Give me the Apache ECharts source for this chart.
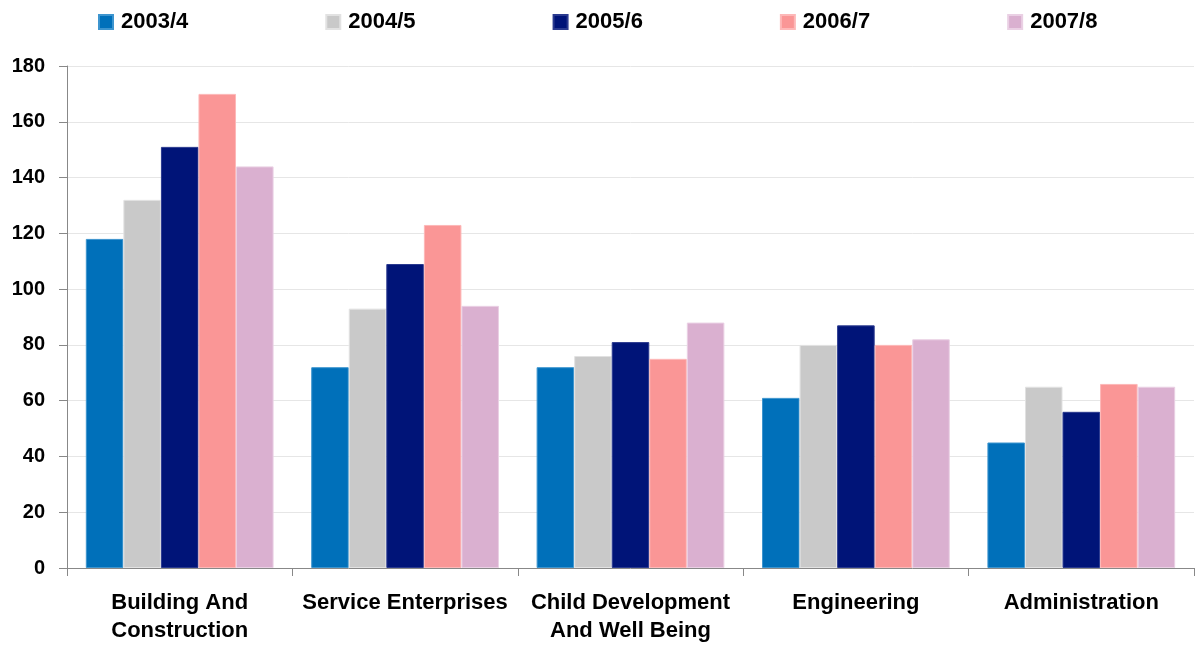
<!DOCTYPE html>
<html><head><meta charset="utf-8">
<script src="https://cdn.jsdelivr.net/npm/echarts@6/dist/echarts.min.js"></script>
<style>html,body{margin:0;padding:0;background:#fff}#c{width:1196px;height:648px}</style>
</head><body><div id="c"></div>
<script>
const categories = ['Building And\nConstruction', 'Service Enterprises', 'Child Development\nAnd Well Being', 'Engineering', 'Administration'];
const seriesNames = ['2003/4', '2004/5', '2005/6', '2006/7', '2007/8'];
const s2003 = [118, 72, 72, 61, 45];
const s2004 = [132, 93, 76, 80, 65];
const s2005 = [151, 109, 81, 87, 56];
const s2006 = [170, 123, 75, 80, 66];
const s2007 = [144, 94, 88, 82, 65];
const yTicks = [0, 20, 40, 60, 80, 100, 120, 140, 160, 180];

const colors = ['#0070BA', '#C9C9C9', '#001478', '#FA9696', '#DAB0D0'];
const borders = ['#3d95cf', '#e2e2e2', '#2a3a8f', '#fdb8b8', '#ead0e4'];
const values = [s2003, s2004, s2005, s2006, s2007];
const font = 'Liberation Sans, Arial, sans-serif';

const chart = echarts.init(document.getElementById('c'));
chart.setOption({
  animation: false,
  textStyle: { fontFamily: font },
  legend: {
    top: 6, left: 93, itemWidth: 14, itemHeight: 14, itemGap: 137,
    icon: 'rect',
    textStyle: { fontSize: 22, fontWeight: 'bold', color: '#000', fontFamily: font, padding: [0, 0, 0, 3] },
    data: seriesNames
  },
  grid: { left: 67, right: 2, top: 66, bottom: 80 },
  xAxis: {
    type: 'category', data: categories,
    axisLine: { lineStyle: { color: '#888' } },
    axisTick: { show: true, length: 8, lineStyle: { color: '#888' } },
    axisLabel: { fontSize: 22, fontWeight: 'bold', color: '#000', margin: 21, lineHeight: 28, fontFamily: font, interval: 0 }
  },
  yAxis: {
    type: 'value', min: 0, max: 180, interval: 20,
    axisLine: { show: true, lineStyle: { color: '#888' } },
    axisTick: { show: true, length: 8, lineStyle: { color: '#888' } },
    splitLine: { lineStyle: { color: '#e6e6e6' } },
    axisLabel: { fontSize: 20, fontWeight: 'bold', color: '#000', margin: 22, fontFamily: font,
      formatter: v => yTicks.includes(v) ? String(v) : '' }
  },
  series: seriesNames.map((n, i) => ({
    name: n, type: 'bar', data: values[i],
    barGap: '0%', barCategoryGap: '16.7%',
    itemStyle: { color: colors[i], borderColor: borders[i], borderWidth: 1 }
  }))
});
</script></body></html>
